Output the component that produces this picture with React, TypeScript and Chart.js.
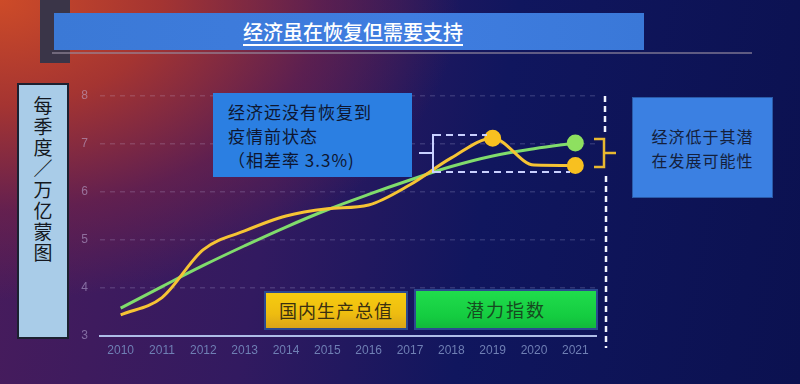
import React, { useEffect, useRef } from "react";
import { Chart, registerables } from "chart.js";

Chart.register(...registerables);

const years = ["2010", "2011", "2012", "2013", "2014", "2015", "2016", "2017", "2018", "2019", "2020", "2021"];
const gdpValues = [3.44, 3.8, 4.8, 5.19, 5.5, 5.65, 5.73, 6.15, 6.71, 7.12, 6.56, 6.55];
const potentialValues = [3.58, 4.03, 4.47, 4.88, 5.27, 5.63, 5.95, 6.25, 6.53, 6.75, 6.9, 7.02];
const gdpPointRadius = [0, 0, 0, 0, 0, 0, 0, 0, 0, 7, 0, 7];
const potentialPointRadius = [0, 0, 0, 0, 0, 0, 0, 0, 0, 0, 0, 7];

const titleText = "经济虽在恢复但需要支持";
const yAxisTitle = ["每", "季", "度", "／", "万", "亿", "蒙", "图"];
const noteLeft = ["经济远没有恢复到", "疫情前状态", "（相差率 3.3%)"];
const noteRight = ["经济低于其潜", "在发展可能性"];
const legendGdp = "国内生产总值";
const legendPotential = "潜力指数";

const CJK = '"Noto Sans CJK SC", "Noto Sans", sans-serif';

const annotationPlugin = {
  id: "gapAnnotations",
  afterDatasetsDraw(chart: any) {
    const ctx = chart.ctx;
    ctx.save();
    // dashed box
    ctx.strokeStyle = "#c9d0ff";
    ctx.lineWidth = 2;
    ctx.setLineDash([7, 5]);
    ctx.beginPath();
    ctx.moveTo(434, 135);
    ctx.lineTo(487, 135);
    ctx.moveTo(434, 172);
    ctx.lineTo(570, 172);
    ctx.stroke();
    ctx.setLineDash([]);
    // left bracket
    ctx.beginPath();
    ctx.moveTo(438, 135);
    ctx.lineTo(433, 135);
    ctx.lineTo(433, 172);
    ctx.lineTo(438, 172);
    ctx.moveTo(433, 153);
    ctx.lineTo(419, 153);
    ctx.stroke();
    // right brace (yellow)
    ctx.strokeStyle = "#e8b830";
    ctx.lineWidth = 2.5;
    ctx.beginPath();
    ctx.moveTo(594, 139);
    ctx.lineTo(604, 139);
    ctx.lineTo(604, 167);
    ctx.lineTo(594, 167);
    ctx.moveTo(604, 153);
    ctx.lineTo(616, 153);
    ctx.stroke();
    // vertical dashed separator
    ctx.strokeStyle = "#f2f4ff";
    ctx.lineWidth = 2.5;
    ctx.setLineDash([6, 4]);
    ctx.beginPath();
    ctx.moveTo(605, 96);
    ctx.lineTo(605, 132);
    ctx.moveTo(606, 176);
    ctx.lineTo(606, 348);
    ctx.stroke();
    ctx.restore();
  },
};

function ChartCanvas() {
  const ref = useRef<HTMLCanvasElement>(null);
  useEffect(() => {
    if (!ref.current) return;
    const chart = new Chart(ref.current, {
      type: "line",
      data: {
        labels: years,
        datasets: [
          {
            label: legendPotential,
            data: potentialValues,
            borderColor: "#80dc6c",
            backgroundColor: "#80dc6c",
            pointBackgroundColor: "#8ee060",
            pointBorderColor: "#8ee060",
            borderWidth: 3,
            pointRadius: potentialPointRadius,
            tension: 0.4,
            order: 2,
          },
          {
            label: legendGdp,
            data: gdpValues,
            borderColor: "#f6c434",
            backgroundColor: "#f6c434",
            pointBackgroundColor: "#f8c020",
            pointBorderColor: "#f8c020",
            borderWidth: 3,
            pointRadius: gdpPointRadius,
            cubicInterpolationMode: "monotone",
            order: 1,
          },
        ],
      },
      options: {
        responsive: false,
        animation: false,
        events: [],
        layout: { padding: { left: 60, right: 204, top: 96, bottom: 22 } },
        plugins: { legend: { display: false }, tooltip: { enabled: false } },
        scales: {
          x: {
            type: "category",
            offset: true,
            grid: { display: false, drawTicks: false },
            border: { display: true, color: "#aebde8", width: 2 },
            ticks: {
              color: "#6f7fb4",
              font: { family: "Arial, 'Liberation Sans', sans-serif", size: 12 },
              padding: 7,
              maxRotation: 0,
            },
            afterFit: (s: any) => {
              s.height = 26;
            },
          },
          y: {
            min: 3,
            max: 8,
            ticks: {
              stepSize: 1,
              color: "rgba(200,190,230,0.5)",
              font: { family: "Arial, 'Liberation Sans', sans-serif", size: 12 },
              padding: 12,
            },
            grid: { color: "rgba(220,220,255,0.16)", drawTicks: false, lineWidth: 1.5 },
            border: { display: false, dash: [5, 5] },
            afterFit: (s: any) => {
              s.width = 40;
            },
          },
        },
      },
      plugins: [annotationPlugin],
    } as any);
    return () => chart.destroy();
  }, []);
  return (
    <canvas
      ref={ref}
      width={800}
      height={384}
      style={{ position: "absolute", left: 0, top: 0, width: 800, height: 384 }}
    />
  );
}

export default function App() {
  return (
    <div
      style={{
        position: "absolute",
        left: 0,
        top: 0,
        width: 800,
        height: 384,
        overflow: "hidden",
        background:
          "radial-gradient(ellipse 460px 300px at 0% 0%, rgba(205,75,40,1) 0%, rgba(175,55,45,0.9) 35%, rgba(120,35,70,0.6) 70%, rgba(60,20,80,0) 100%), linear-gradient(100deg, #4a1c5c 0%, #321a60 35%, #10165e 60%, #0b1150 100%)",
        fontFamily: CJK,
      }}
    >
      {/* title shadow block */}
      <div style={{ position: "absolute", left: 40, top: 0, width: 30, height: 63, background: "#3a3548" }} />
      <div style={{ position: "absolute", left: 52, top: 52, width: 700, height: 2, background: "rgba(150,140,160,0.6)" }} />
      <div
        style={{
          position: "absolute",
          left: 54,
          top: 13,
          width: 590,
          height: 37,
          background: "linear-gradient(90deg, #3b79d6, #3f7de0 60%, #3a78d8)",
          color: "#ffffff",
          fontSize: 20,
          lineHeight: "37px",
          textAlign: "center",
          fontWeight: 500,
        }}
      >
        <span style={{ position: "relative", left: 4, textDecoration: "underline", textUnderlineOffset: 4 }}>{titleText}</span>
      </div>

      <ChartCanvas />

      {/* y axis title box */}
      <div
        style={{
          position: "absolute",
          left: 17,
          top: 83,
          width: 52,
          height: 256,
          background: "#a9cce8",
          border: "2px solid #1c2030",
          boxSizing: "border-box",
          color: "#141820",
          fontSize: 19,
          lineHeight: "21px",
          textAlign: "center",
          paddingTop: 9,
        }}
      >
        {yAxisTitle.map((c, i) => (
          <div key={i}>{c}</div>
        ))}
      </div>

      {/* left note */}
      <div
        style={{
          position: "absolute",
          left: 213,
          top: 93,
          width: 199,
          height: 84,
          background: "#2b7fe2",
          color: "#0e1630",
          fontSize: 17,
          lineHeight: "24px",
          paddingLeft: 15,
          paddingTop: 7,
          boxSizing: "border-box",
          letterSpacing: 1,
        }}
      >
        {noteLeft.map((t, i) => (
          <div key={i}>{t}</div>
        ))}
      </div>

      {/* right note */}
      <div
        style={{
          position: "absolute",
          left: 632,
          top: 97,
          width: 141,
          height: 101,
          background: "#3b80e2",
          border: "1px solid #2a5aa8",
          boxSizing: "border-box",
          color: "#14203c",
          fontSize: 16,
          lineHeight: "24px",
          display: "flex",
          flexDirection: "column",
          justifyContent: "center",
          alignItems: "center",
          letterSpacing: 1,
        }}
      >
        {noteRight.map((t, i) => (
          <div key={i}>{t}</div>
        ))}
      </div>

      {/* legend boxes */}
      <div
        style={{
          position: "absolute",
          left: 264,
          top: 291,
          width: 144,
          height: 39,
          background: "linear-gradient(180deg, #f6cc10, #eebc10 60%, #d9a418)",
          border: "2px solid #2c4a90",
          boxSizing: "border-box",
          color: "#3a3010",
          fontSize: 18,
          lineHeight: "35px",
          textAlign: "center",
          letterSpacing: 1,
        }}
      >
        {legendGdp}
      </div>
      <div
        style={{
          position: "absolute",
          left: 414,
          top: 289,
          width: 184,
          height: 41,
          background: "linear-gradient(180deg, #20dc4c, #14cc40 70%, #12b83c)",
          border: "2px solid #2c4a90",
          boxSizing: "border-box",
          color: "#164a20",
          fontSize: 18,
          lineHeight: "37px",
          textAlign: "center",
          letterSpacing: 2,
        }}
      >
        {legendPotential}
      </div>
    </div>
  );
}
